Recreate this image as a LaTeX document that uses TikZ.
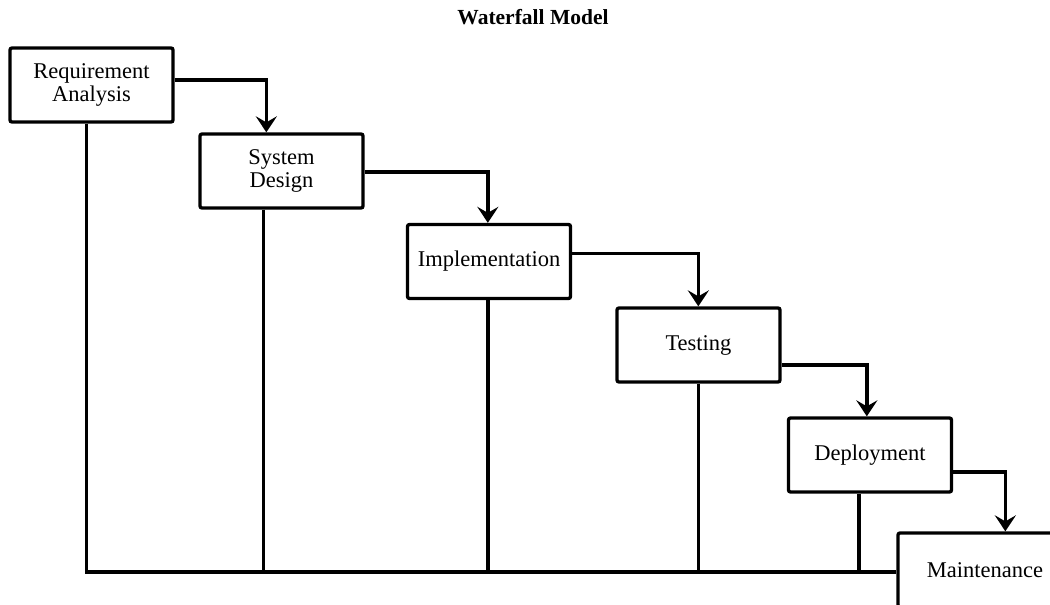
\documentclass[tikz,border=0pt]{standalone}
\usepackage{fontspec}
\setmainfont{Liberation Serif}
\usetikzlibrary{arrows.meta,calc}
\begin{document}
\begin{tikzpicture}[x=1pt,y=-1pt,
  phase/.style={draw,line width=3.3pt,rounded corners=2pt,fill=white,
    minimum width=163pt,minimum height=74pt,inner sep=0pt,align=center,
    font=\fontsize{22.5}{23.5}\selectfont},
  flow/.style={line width=3.3pt,-{Stealth[length=16pt,width=21pt,inset=6pt]}},
  link/.style={line width=3.3pt}]
\useasboundingbox (0,0) rectangle (1050,605);
\clip (0,0) rectangle (1050,605);

\node[font=\bfseries\fontsize{21.5}{23}\selectfont] (title) at (533,17) {Waterfall Model};

\coordinate (base) at (0,572);

% the six phases, stepping down to the right
\node[phase] (b1) at (91.5,85) {Requirement\\Analysis};
\node[phase] (b2) at (281.5,171) {System\\Design};
\node[phase] (b3) at (489,261.5) {Implementation};
\node[phase] (b4) at (698.5,345) {Testing};
\node[phase] (b5) at (870,455) {Deployment};
\node[phase,minimum width=174pt] (b6) at (985,570) {Maintenance};

% drops from each phase into the shared backbone
\coordinate (d1) at ([xshift=78pt]b1.south west);
\coordinate (d2) at ([xshift=65pt]b2.south west);
\coordinate (d3) at ([xshift=82pt]b3.south west);
\coordinate (d4) at ([xshift=83pt]b4.south west);
\coordinate (d5) at ([xshift=72pt]b5.south west);

\draw[link] (d1) -- (d1 |- base) -- (b6.west |- base);
\draw[link] (d2) -- (d2 |- base);
\draw[link] (d3) -- (d3 |- base);
\draw[link] (d4) -- (d4 |- base);
\draw[link] (d5) -- (d5 |- base);

% cascading arrows
\draw[flow] ([yshift=5pt]b1.east) -| ([xshift=68pt]b2.north west);
\draw[flow] ([yshift=-1pt]b2.east) -| ([xshift=82pt]b3.north west);
\draw[flow] ([yshift=8pt]b3.east) -| ([xshift=83pt]b4.north west);
\draw[flow] ([yshift=-20pt]b4.east) -| ([xshift=80pt]b5.north west);
\draw[flow] ([yshift=-17pt]b5.east) -| ([xshift=109pt]b6.north west);
\end{tikzpicture}
\end{document}
